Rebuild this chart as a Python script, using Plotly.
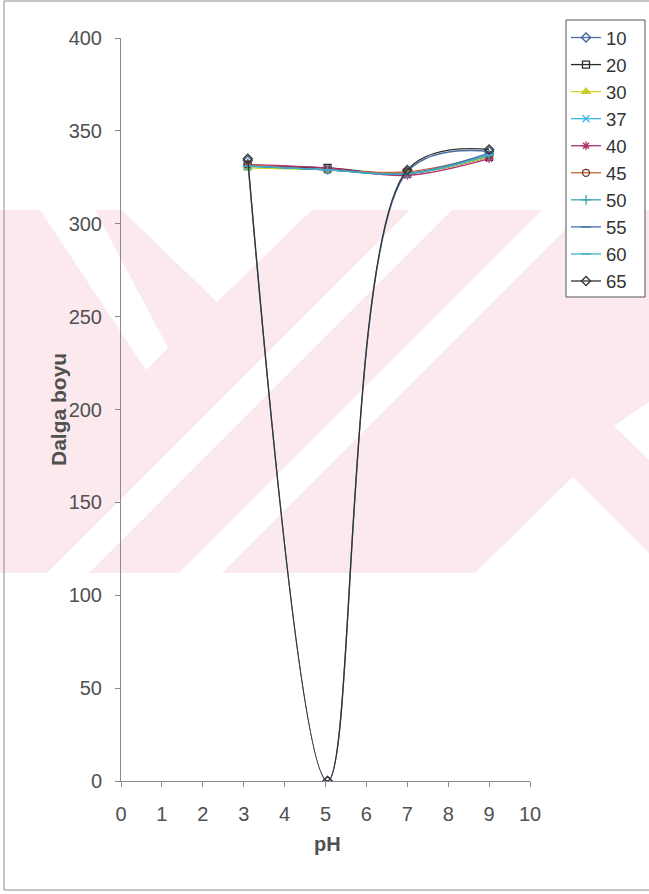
import plotly.graph_objects as go

# pH values and wavelength series (one per temperature)
ph = [3.1, 5.05, 7.0, 9.0]
series_names = ["10", "20", "30", "37", "40", "45", "50", "55", "60", "65"]
s10 = [334, 0, 328, 339]
s20 = [331, 330, 327, 336]
s30 = [330, 329, 327, 336]
s37 = [331, 329, 327, 337]
s40 = [332, 330, 326, 335]
s45 = [332, 329, 328, 337]
s50 = [331, 329, 327, 337]
s55 = [331, 329, 327, 338]
s60 = [331, 329, 327, 337]
s65 = [335, 0, 329, 340]
series_values = [s10, s20, s30, s37, s40, s45, s50, s55, s60, s65]

y_ticks = [0, 50, 100, 150, 200, 250, 300, 350, 400]
x_ticks = list(range(0, 11))

line_colors = ["#4a6fa5", "#2b2b2b", "#cfd62a", "#3cb4e6", "#b03070",
               "#c8643c", "#3aa5b5", "#4070b0", "#40b0c8", "#333333"]
marker_colors = ["#3c5f95", "#2b2b2b", "#c6cc20", "#3cb4e6", "#b03070",
                 "#6a3a2a", "#3aa5b5", "#4070b0", "#40b0c8", "#333333"]
symbols = ["diamond-open", "square-open", "triangle-up", "x-thin-open",
           "asterisk-open", "circle-open", "cross-thin-open", "line-ew-open",
           "line-ew-open", "diamond-open"]

W, H = 649, 894
L, R, T, B = 121, 119, 38, 113
PW, PH = W - L - R, H - T - B
FONT = "Liberation Sans, Arial, sans-serif"

fig = go.Figure()
for name, vals, lc, mc, sym in zip(series_names, series_values, line_colors,
                                   marker_colors, symbols):
    fig.add_trace(go.Scatter(
        x=ph, y=vals, name=name, mode="lines+markers",
        line=dict(color=lc, width=1.3, shape="spline", smoothing=1.0),
        marker=dict(symbol=sym, size=7, color=mc,
                    line=dict(color=mc, width=1.3)),
        legendgroup=name,
    ))


def px(x, y):
    """Page pixel -> paper coordinates."""
    return (x - L) / PW, (H - B - y) / PH


def poly(points):
    pts = [px(x, y) for x, y in points]
    return "M " + " L ".join(f"{a:.4f},{b:.4f}" for a, b in pts) + " Z"


def rect(xa, ya, xb, yb, **kw):
    ax, ay = px(xa, ya)
    bx, by = px(xb, yb)
    return dict(type="rect", xref="paper", yref="paper",
                x0=ax, y0=by, x1=bx, y1=ay, **kw)


shapes = []
pink = "#fce9ed"
# watermark band
shapes.append(rect(0, 210, W, 573, fillcolor=pink, line=dict(width=0),
                   layer="below"))
white_polys = [
    [(40, 210), (95, 210), (168, 348), (146, 370)],
    [(122, 210), (312, 210), (217, 302)],
    [(410, 210), (452, 210), (89, 573), (47, 573)],
    [(542, 210), (585, 210), (222, 573), (179, 573)],
    [(475, 573), (573, 477), (649, 553), (649, 573)],
    [(614, 426), (649, 402), (649, 460)],
]
for p in white_polys:
    shapes.append(dict(type="path", xref="paper", yref="paper", path=poly(p),
                       fillcolor="white", line=dict(width=0), layer="below"))

# legend frame
shapes.append(rect(566, 20, 645, 297, fillcolor="white",
                   line=dict(color="#555555", width=1), layer="above"))

# outer chart frame
shapes.append(rect(4, 1, 700, 890, line=dict(color="#8a8a8a", width=1),
                   fillcolor="rgba(0,0,0,0)", layer="above"))

axis_font = dict(family=FONT, size=20, color="#505050")
fig.update_layout(
    width=W, height=H, autosize=False,
    margin=dict(l=L, r=R, t=T, b=B, pad=0),
    paper_bgcolor="white", plot_bgcolor="rgba(0,0,0,0)",
    shapes=shapes,
    showlegend=True,
    legend=dict(x=px(566, 0)[0], y=px(0, 19)[1], xanchor="left", yanchor="top",
                bgcolor="rgba(0,0,0,0)", borderwidth=0,
                font=dict(family=FONT, size=18.5, color="#333333"),
                tracegroupgap=0, itemwidth=30),
    xaxis=dict(range=[0, 10], tickvals=x_ticks, ticks="outside", ticklen=5,
               tickcolor="#8a8a8a", showline=True, linecolor="#8a8a8a",
               linewidth=1, showgrid=False, zeroline=False, tickfont=axis_font,
               ticklabelstandoff=10),
    yaxis=dict(range=[0, 400], tickvals=y_ticks, ticks="outside", ticklen=5,
               tickcolor="#8a8a8a", showline=True, linecolor="#8a8a8a",
               linewidth=1, showgrid=False, zeroline=False, tickfont=axis_font,
               ticklabelstandoff=9),
    annotations=[
        dict(text="<b>pH</b>", xref="paper", yref="paper",
             x=px(327, 0)[0], y=px(0, 857)[1], showarrow=False,
             font=dict(family=FONT, size=20, color="#505050")),
        dict(text="<b>Dalga boyu</b>", xref="paper", yref="paper",
             x=px(45, 0)[0], y=0.5, showarrow=False, textangle=-90,
             font=dict(family=FONT, size=21, color="#505050")),
    ],
)

fig.write_html("out.html")
